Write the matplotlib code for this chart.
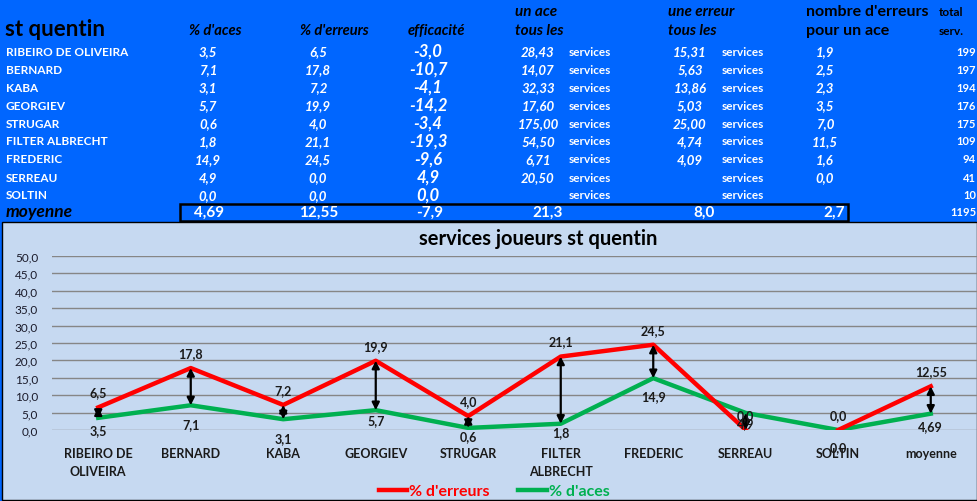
import matplotlib
matplotlib.use("Agg")
import matplotlib.pyplot as plt
from matplotlib.patches import Rectangle

plt.rcParams['font.family'] = ['Lato', 'DejaVu Sans']

# table data
names = ['RIBEIRO DE OLIVEIRA', 'BERNARD', 'KABA', 'GEORGIEV', 'STRUGAR',
         'FILTER ALBRECHT', 'FREDERIC', 'SERREAU', 'SOLTIN']
aces = [3.5, 7.1, 3.1, 5.7, 0.6, 1.8, 14.9, 4.9, 0.0]
erreurs = [6.5, 17.8, 7.2, 19.9, 4.0, 21.1, 24.5, 0.0, 0.0]
efficacite = [-3.0, -10.7, -4.1, -14.2, -3.4, -19.3, -9.6, 4.9, 0.0]
ace_tous_les = [28.43, 14.07, 32.33, 17.60, 175.00, 54.50, 6.71, 20.50, None]
erreur_tous_les = [15.31, 5.63, 13.86, 5.03, 25.00, 4.74, 4.09, None, None]
erreurs_par_ace = [1.9, 2.5, 2.3, 3.5, 7.0, 11.5, 1.6, 0.0, None]
total_serv = [199, 197, 194, 176, 175, 109, 94, 41, 10]
moy_aces, moy_erreurs, moy_eff = 4.69, 12.55, -7.9
moy_ace_tous, moy_err_tous, moy_err_par_ace, moy_total = 21.3, 8.0, 2.7, 1195

# chart data
chart_labels = ['RIBEIRO DE\nOLIVEIRA', 'BERNARD', 'KABA', 'GEORGIEV', 'STRUGAR',
                'FILTER\nALBRECHT', 'FREDERIC', 'SERREAU', 'SOLTIN', 'moyenne']
chart_err = erreurs + [moy_erreurs]
chart_aces = aces + [moy_aces]
green_label_offsets = [12, 19, 19, 10, 8, 8, 18, 10, 17, 12]  # px below point
red_break = 8  # the red line is not drawn between SERREAU and SOLTIN

W, H = 978, 502
BLUE = '#0066FF'
RED = '#FF0000'
GREEN = '#00B050'


def fx(x):
    return x / W


def fy(y):
    return 1 - y / H


def fr(v, d=1):
    if v is None:
        return ''
    return f'{v:.{d}f}'.replace('.', ',')


fig = plt.figure(figsize=(W / 100, H / 100), dpi=100)
fig.patch.set_facecolor(BLUE)


def t(x, y, s, **kw):
    kw.setdefault('va', 'center')
    fig.text(fx(x), fy(y), s, **kw)


# headers
t(515, 12, 'un ace', fontsize=11, weight='bold', style='italic', color='black')
t(515, 31, 'tous les', fontsize=11, weight='bold', style='italic', color='black')
t(668, 12, 'une erreur', fontsize=11, weight='bold', style='italic', color='black')
t(668, 31, 'tous les', fontsize=11, weight='bold', style='italic', color='black')
t(806, 12, "nombre d'erreurs", fontsize=11.5, weight='bold', color='black')
t(806, 31, 'pour un ace', fontsize=11.5, weight='bold', color='black')
t(939, 12, 'total', fontsize=8.5, weight='bold', color='black')
t(939, 32, 'serv.', fontsize=8.5, weight='bold', color='black')
t(5, 30, 'st quentin', fontsize=16, weight='bold', color='black')
t(215, 31, "% d'aces", fontsize=10.5, weight='bold', style='italic', color='black', ha='center')
t(334, 31, "% d'erreurs", fontsize=10.5, weight='bold', style='italic', color='black', ha='center')
t(436, 31, 'efficacité', fontsize=10.5, weight='bold', style='italic', color='black', ha='center')

# rows
for i in range(len(names)):
    y = 52 + i * 18
    t(6, y, names[i], fontsize=8.5, weight='bold', color='white')
    t(208, y, fr(aces[i]), fontsize=9.5, weight='bold', style='italic', color='white', ha='center')
    t(318, y, fr(erreurs[i]), fontsize=9.5, weight='bold', style='italic', color='white', ha='center')
    t(428, y, fr(efficacite[i]), fontsize=12, weight='bold', style='italic', color='white', ha='center')
    t(538, y, fr(ace_tous_les[i], 2), fontsize=9.5, weight='bold', style='italic', color='white', ha='center')
    t(569, y, 'services', fontsize=8.5, weight='bold', color='white')
    t(690, y, fr(erreur_tous_les[i], 2), fontsize=9.5, weight='bold', style='italic', color='white', ha='center')
    t(722, y, 'services', fontsize=8.5, weight='bold', color='white')
    t(825, y, fr(erreurs_par_ace[i]), fontsize=9.5, weight='bold', style='italic', color='white', ha='center')
    t(976, y, str(total_serv[i]), fontsize=8, weight='bold', color='white', ha='right')

# moyenne row
t(6, 212, 'moyenne', fontsize=12.5, weight='bold', style='italic', color='black')
fig.patches.append(Rectangle((fx(180), fy(222)), fx(848) - fx(180), fy(205) - fy(222),
                             transform=fig.transFigure, fill=False, edgecolor='black', lw=1.8))
for x, s in [(209, fr(moy_aces, 2)), (319, fr(moy_erreurs, 2)), (430, fr(moy_eff)),
             (548, fr(moy_ace_tous)), (704, fr(moy_err_tous)), (834, fr(moy_err_par_ace))]:
    t(x, 213, s, fontsize=11, weight='bold', color='white', ha='center')
t(976, 213, str(moy_total), fontsize=8, weight='bold', color='white', ha='right')

# chart panel
fig.patches.append(Rectangle((fx(2), fy(501)), fx(977) - fx(2), fy(223) - fy(501),
                             transform=fig.transFigure, facecolor='#C6D9F1', edgecolor='black',
                             lw=1, zorder=-1))
t(538, 239, 'services joueurs st quentin', fontsize=14.5, weight='bold', color='black', ha='center')

ax = fig.add_axes([fx(52), fy(431), fx(977) - fx(52), fy(257) - fy(431)])
ax.set_facecolor('none')
x = list(range(len(chart_labels)))
ax.set_xlim(-0.5, len(chart_labels) - 0.5)
ax.set_ylim(0, 50)
ax.set_yticks(range(0, 51, 5))
ax.set_yticklabels([fr(v) for v in range(0, 51, 5)], fontsize=8.5, color='#1a1a2a')
ax.yaxis.grid(True, color='#868686', lw=1)
ax.set_axisbelow(True)
ax.set_xticks(x)
ax.set_xticklabels(chart_labels, fontsize=9, weight='bold', color='#1a1a1a', linespacing=1.6)
ax.tick_params(axis='both', length=0)
ax.tick_params(axis='y', pad=10)
ax.tick_params(axis='x', pad=12.5)
for s in ax.spines.values():
    s.set_visible(False)

l_ace, = ax.plot(x, chart_aces, color=GREEN, lw=3.2, zorder=3)
l_err, = ax.plot(x[:red_break], chart_err[:red_break], color=RED, lw=3.2, zorder=4)
ax.plot(x[red_break:], chart_err[red_break:], color=RED, lw=3.2, zorder=4)

for i in x:
    if chart_err[i] != chart_aces[i]:
        ax.annotate('', xy=(i, chart_err[i]), xytext=(i, chart_aces[i]),
                    arrowprops=dict(arrowstyle='<|-|>', color='black', lw=1.6,
                                    mutation_scale=11, shrinkA=0, shrinkB=0), zorder=5)
    d = 2 if i == len(x) - 1 else 1
    ax.annotate(fr(chart_err[i], d), (i, chart_err[i]), xytext=(0, 15 * 0.72),
                textcoords='offset points', ha='center', va='center',
                fontsize=9, weight='bold', color='#1a1a1a', zorder=6)
    ax.annotate(fr(chart_aces[i], d), (i, chart_aces[i]), xytext=(0, -green_label_offsets[i] * 0.72),
                textcoords='offset points', ha='center', va='center',
                fontsize=9, weight='bold', color='#1a1a1a', zorder=6)

fig.legend([l_err, l_ace], ["% d'erreurs", "% d'aces"], loc='center',
           bbox_to_anchor=(fx(494), fy(492)), ncol=2, frameon=False,
           handlelength=1.8, handletextpad=0.1, columnspacing=1.8,
           labelcolor='linecolor', prop={'weight': 'bold', 'size': 11.5})

fig.savefig('out.png', dpi=100, facecolor=fig.get_facecolor())
